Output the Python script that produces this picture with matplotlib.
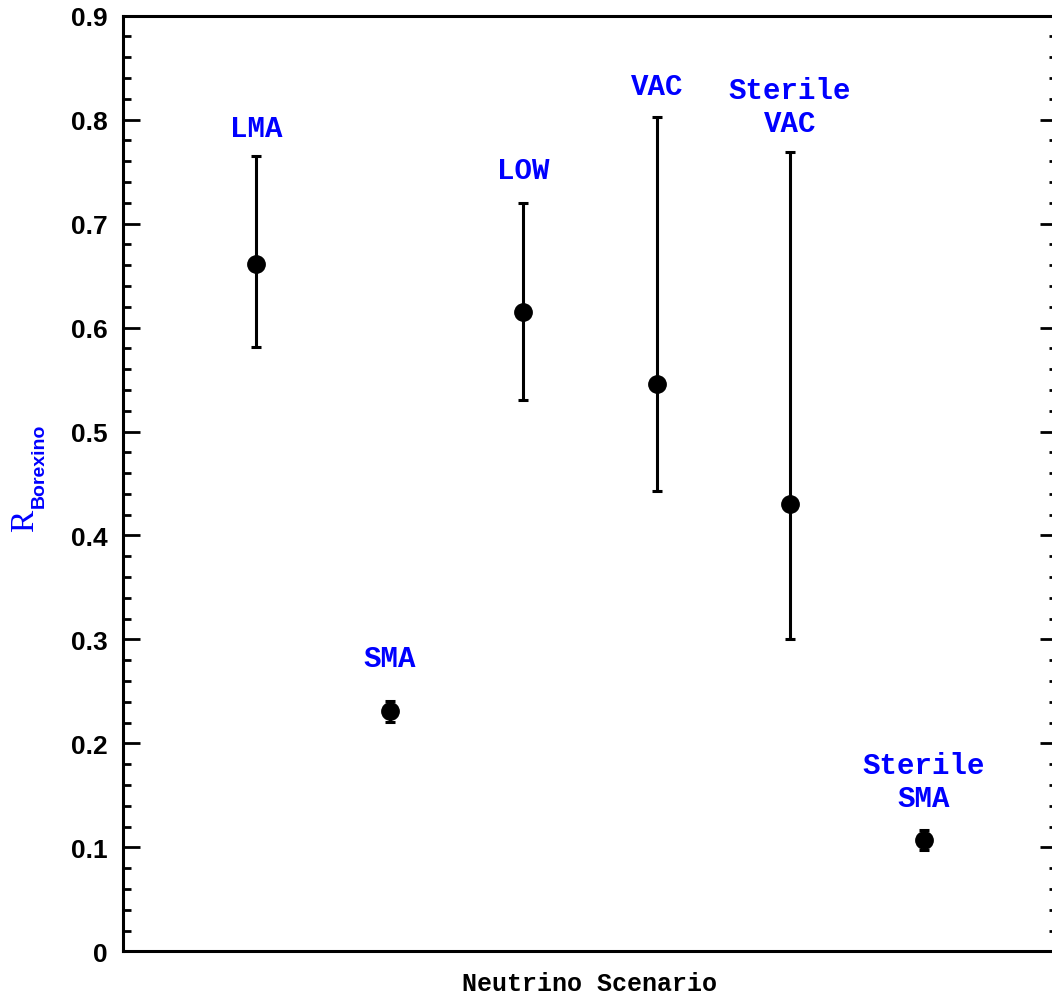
import numpy as np
import matplotlib.pyplot as plt
from matplotlib.ticker import MultipleLocator

# Predicted Borexino rate for each neutrino oscillation scenario
scenarios = ["LMA", "SMA", "LOW", "VAC", "Sterile\nVAC", "Sterile\nSMA"]
rate = np.array([0.661, 0.231, 0.615, 0.546, 0.430, 0.107])
rate_hi = np.array([0.765, 0.241, 0.720, 0.803, 0.769, 0.117])
rate_lo = np.array([0.581, 0.221, 0.530, 0.443, 0.300, 0.097])
yticks = [0, 0.1, 0.2, 0.3, 0.4, 0.5, 0.6, 0.7, 0.8, 0.9]
yticklabels = ["0", "0.1", "0.2", "0.3", "0.4", "0.5", "0.6", "0.7", "0.8", "0.9"]

# gap (pixels) between the top of each error bar and its label
label_gap = [14, 29, 19, 17, 15, 18]

W, H = 1052, 1003
fig = plt.figure(figsize=(W / 100, H / 100), dpi=100)
ax = fig.add_axes([123 / W, 50.7 / H, (1057 - 123) / W, (952.3 - 16.7) / H])

xpos = np.arange(1, len(scenarios) + 1)
ax.errorbar(xpos, rate, yerr=[rate - rate_lo, rate_hi - rate], fmt="o",
            color="black", ms=12.5, elinewidth=2.2, capsize=3.6, capthick=2.2)

for x, top, name, gap in zip(xpos, rate_hi, scenarios, label_gap):
    ax.annotate(name, (x, top), xytext=(0, gap), textcoords="offset pixels",
                ha="center", va="bottom", color="blue", fontsize=21,
                family="Liberation Mono", fontweight="bold", linespacing=1.2)

ax.set_xlim(0, 7)
ax.set_ylim(0, 0.9)
ax.set_xticks([])
ax.set_yticks(yticks)
ax.set_yticklabels(yticklabels, family="Liberation Sans", fontweight="bold",
                   fontsize=19)
ax.yaxis.set_minor_locator(MultipleLocator(0.02))
ax.tick_params(axis="y", which="both", direction="in", left=True, right=True,
               width=2.0, pad=11)
ax.tick_params(axis="y", which="major", length=12)
ax.tick_params(axis="y", which="minor", length=5.8)
for sp in ax.spines.values():
    sp.set_linewidth(2.2)

ax.set_xlabel("Neutrino Scenario", family="Liberation Mono", fontweight="bold",
              fontsize=18, labelpad=14)

# y label: R with a bold subscript
fig.text(25 / W, 1 - 521 / H, "R", rotation=90, color="blue", fontsize=24,
         family="Liberation Serif", ha="center", va="center")
fig.text(39.5 / W, 1 - 465.5 / H, "Borexino", rotation=90, color="blue",
         fontsize=14, family="Liberation Sans", fontweight="bold",
         ha="center", va="center")

fig.savefig("out.png", dpi=100)
